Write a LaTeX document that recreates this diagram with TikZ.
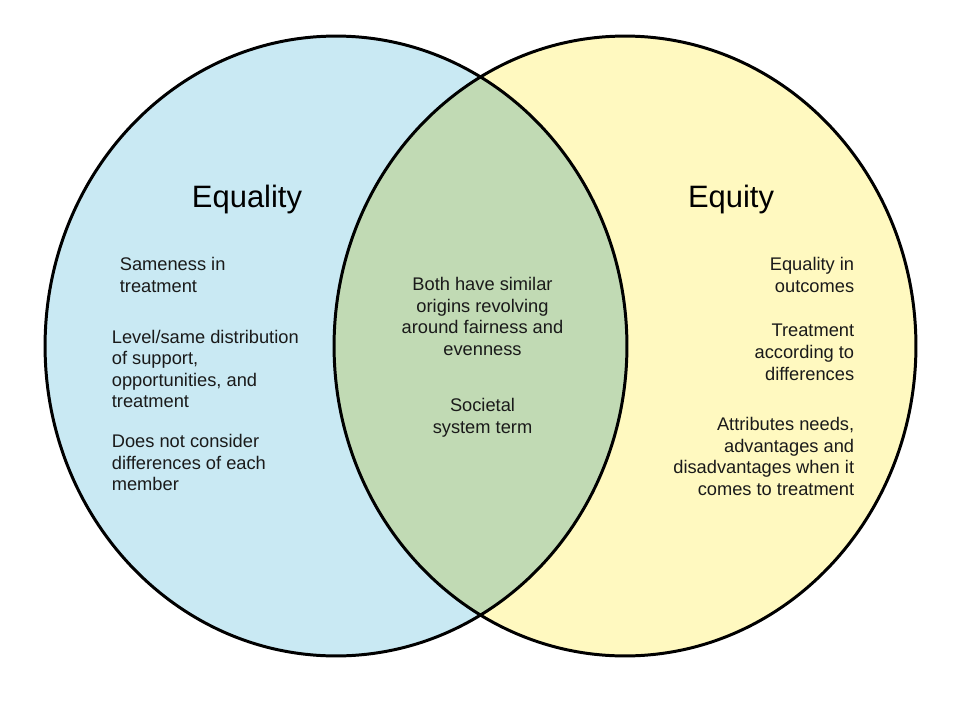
\documentclass[tikz,border=0pt]{standalone}
\usepackage{fontspec}
\setmainfont{Liberation Sans}
\usetikzlibrary{positioning}
\definecolor{eqlblue}{RGB}{201,233,243}
\definecolor{eqtyellow}{RGB}{255,249,192}
\definecolor{bothgreen}{RGB}{193,218,180}
\definecolor{txtgray}{RGB}{26,26,26}

\begin{document}
\begin{tikzpicture}[x=0.02cm,y=-0.02cm,
  ring/.style={line width=1.7pt},
  head/.style={font=\fontsize{17.6}{21}\selectfont,text=black,inner sep=0},
  note/.style={font=\fontsize{10.4}{12.3}\selectfont,text=txtgray,inner sep=0}]
\useasboundingbox (0,0) rectangle (960,720);
\fill[eqlblue] (336,346) ellipse [x radius=5.82cm,y radius=6.2cm];
\fill[eqtyellow] (625,346) ellipse [x radius=5.82cm,y radius=6.2cm];
\begin{scope}
\clip (336,346) ellipse [x radius=5.82cm,y radius=6.2cm];
\fill[bothgreen] (625,346) ellipse [x radius=5.82cm,y radius=6.2cm];
\end{scope}
\foreach \cx in {336,625} \draw[ring] (\cx,346) ellipse [x radius=5.82cm,y radius=6.2cm];
\node[head,anchor=base] (eqlty) at (247,207) {Equality};
\node[head,anchor=base] (eqty) at (731,207) {Equity};
\node[note,anchor=north west,align=left] (sameness) at (119.5,257) {Sameness in\\treatment};
\node[note,anchor=north west,align=left] (levelsame) at (111.5,329.5) {Level/same distribution\\of support,\\opportunities, and\\treatment};
\node[note,anchor=north west,align=left] (notconsider) at (111.5,434) {Does not consider\\differences of each\\member};
\node[note,anchor=north,align=center] (origins) at (482.5,277) {Both have similar\\origins revolving\\around fairness and\\evenness};
\node[note,anchor=north,align=center] (societal) at (482.5,398) {Societal\\system term};
\node[note,anchor=north east,align=right] (outcomes) at (854.5,257) {Equality in\\outcomes};
\node[note,anchor=north east,align=right] (according) at (854.5,324) {Treatment\\according to\\differences};
\node[note,anchor=north east,align=right] (attributes) at (854.5,417) {Attributes needs,\\advantages and\\disadvantages when it\\comes to treatment};
\end{tikzpicture}
\end{document}
